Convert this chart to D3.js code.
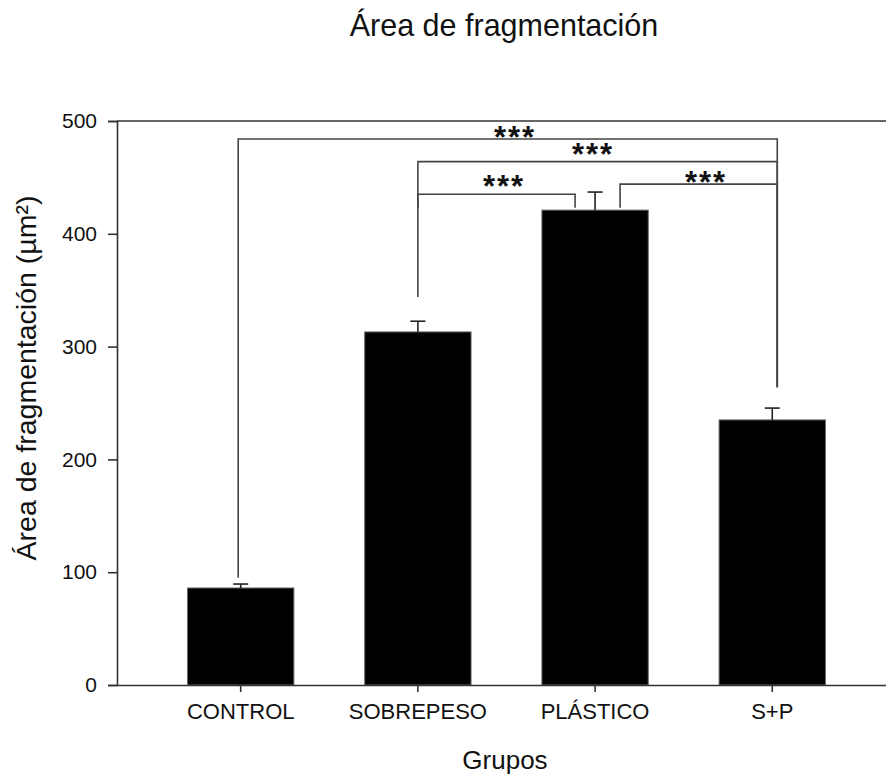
<!DOCTYPE html>
<html>
<head>
<meta charset="utf-8">
<script src="https://cdn.jsdelivr.net/npm/d3@7/dist/d3.min.js"></script>
<style>
  html, body { margin: 0; padding: 0; background: #fff; }
  svg { display: block; }
  text { font-family: "Liberation Sans", Arial, sans-serif; fill: #111; }
</style>
</head>
<body>
<svg id="chart" width="886" height="777"></svg>
<script>
// Grupos y medias del área de fragmentación (µm²), con su error estándar
const groups = ["CONTROL", "SOBREPESO", "PLÁSTICO", "S+P"];
const means  = [86, 313, 421, 235];
const errors = [3.5, 9.5, 16, 10.5];
const yTicks = [0, 100, 200, 300, 400, 500];

// Comparaciones significativas: grupos, altura de la barra horizontal y final de cada brazo
const cmpFrom    = ["CONTROL", "SOBREPESO", "SOBREPESO", "PLÁSTICO"];
const cmpTo      = ["S+P", "S+P", "PLÁSTICO", "S+P"];
const cmpLevel   = [484, 464, 435, 444];
const cmpEndFrom = [95, 344, 423, 423];
const cmpEndTo   = [264, 264, 423, 264];
const cmpLabel   = ["***", "***", "***", "***"];

const mLeft = 117, mTop = 121, mBottom = 685, mRight = 886;
const svg = d3.select("#chart");

const x = d3.scaleBand().domain(groups).range([mLeft, mRight])
  .paddingInner(0.4).paddingOuter(0.37).align(0.538);
const y = d3.scaleLinear().domain([0, 500]).range([mBottom, mTop]);

// Desplazamiento horizontal de los brazos respecto al centro de la barra
const armShift = { "CONTROL": -2.5, "SOBREPESO": 0, "S+P": 5 };
const plasticArm = { left: -20, right: 25 };
function armX(g, side) {
  const c = x(g) + x.bandwidth() / 2;
  if (g === "PLÁSTICO") return c + (side === "to" ? plasticArm.left : plasticArm.right);
  return c + armShift[g];
}

// Barras
svg.append("g").selectAll("rect").data(groups).join("rect")
  .attr("x", d => x(d))
  .attr("width", x.bandwidth())
  .attr("y", (d, i) => y(means[i]))
  .attr("height", (d, i) => y(0) - y(means[i]))
  .attr("fill", "#000")
  .attr("stroke", "#666")
  .attr("stroke-width", 1);

// Barras de error (solo hacia arriba)
const eb = svg.append("g").attr("stroke", "#222").attr("stroke-width", 1.6);
groups.forEach((g, i) => {
  const cx = x(g) + x.bandwidth() / 2;
  eb.append("line").attr("x1", cx).attr("x2", cx)
    .attr("y1", y(means[i])).attr("y2", y(means[i] + errors[i]));
  eb.append("line").attr("x1", cx - 7.5).attr("x2", cx + 7.5)
    .attr("y1", y(means[i] + errors[i])).attr("y2", y(means[i] + errors[i]));
});

// Ejes
const yAxis = d3.axisLeft(y).tickValues(yTicks).tickSize(9).tickPadding(11);
const gy = svg.append("g").attr("transform", `translate(${mLeft},0)`).call(yAxis);
gy.select(".domain").attr("stroke", "#333").attr("stroke-width", 1.6);
gy.selectAll(".tick line").attr("stroke", "#333").attr("stroke-width", 1.6);
gy.selectAll(".tick text").attr("font-size", 21).attr("fill", "#222")
  .attr("font-family", "Liberation Sans, Arial, sans-serif");

const xAxis = d3.axisBottom(x).tickSize(7).tickPadding(11).tickSizeOuter(0);
const gx = svg.append("g").attr("transform", `translate(0,${mBottom})`).call(xAxis);
gx.select(".domain").attr("stroke", "#333").attr("stroke-width", 1.6);
gx.selectAll(".tick line").attr("stroke", "#333").attr("stroke-width", 1.6);
gx.selectAll(".tick text").attr("font-size", 22).attr("fill", "#222")
  .attr("font-family", "Liberation Sans, Arial, sans-serif");

// Borde superior del marco
svg.append("line").attr("x1", mLeft).attr("x2", mRight)
  .attr("y1", mTop).attr("y2", mTop)
  .attr("stroke", "#333").attr("stroke-width", 1.6);

// Corchetes de significación
const br = svg.append("g").attr("fill", "none").attr("stroke", "#444").attr("stroke-width", 1.6);
cmpFrom.forEach((g, i) => {
  const x1 = armX(g, "from"), x2 = armX(cmpTo[i], "to");
  const yl = y(cmpLevel[i]);
  br.append("path").attr("d",
    `M${x1},${y(cmpEndFrom[i])}V${yl}H${x2}V${y(cmpEndTo[i])}`);
});

// Asteriscos sobre cada corchete
const starX = [514, 592, 503, 705];
const starY = [133, 150, 182, 178];
cmpLabel.forEach((lab, i) => {
  svg.append("text")
    .attr("x", starX[i] + 1)
    .attr("y", starY[i] + 15)
    .attr("text-anchor", "middle")
    .attr("font-family", "Liberation Serif, Times New Roman, serif")
    .attr("font-weight", "bold")
    .attr("font-size", 31)
    .attr("letter-spacing", 2)
    .attr("fill", "#111")
    .text(lab);
});

// Títulos
svg.append("text").attr("x", 504).attr("y", 36)
  .attr("text-anchor", "middle").attr("font-size", 30.5)
  .text("Área de fragmentación");

svg.append("text").attr("x", 505).attr("y", 769)
  .attr("text-anchor", "middle").attr("font-size", 26)
  .text("Grupos");

svg.append("text")
  .attr("transform", "translate(36,378) rotate(-90)")
  .attr("text-anchor", "middle").attr("font-size", 28.5)
  .text("Área de fragmentación (µm²)");
</script>
</body>
</html>
